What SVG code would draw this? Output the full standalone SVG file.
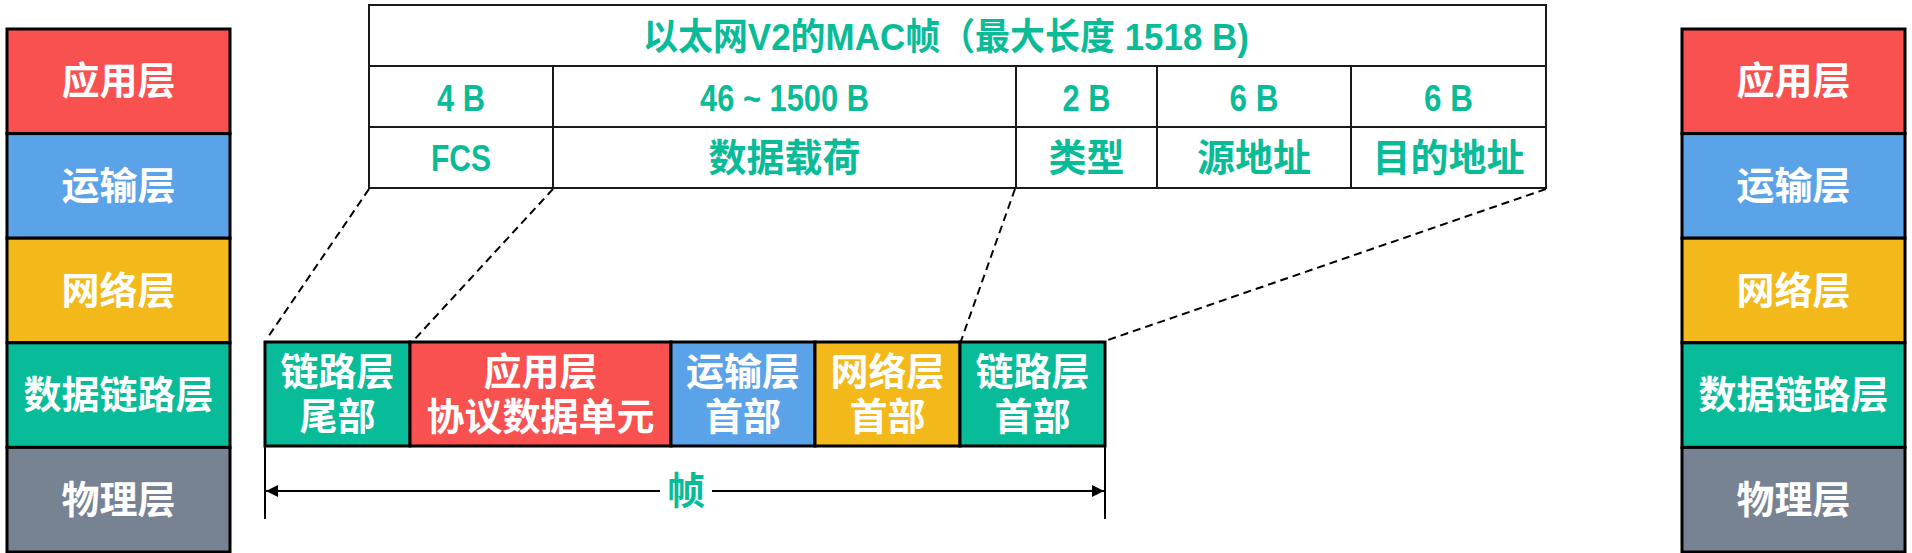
<svg xmlns="http://www.w3.org/2000/svg" width="1912" height="553" viewBox="0 0 1912 553">
<defs>
<style>
.t{font-family:"Liberation Sans","Noto Sans CJK SC",sans-serif;font-weight:bold;text-anchor:middle;dominant-baseline:central}
.w{fill:#ffffff;font-size:38px}
.g{fill:#0ABB98;font-size:38px}
.n{fill:#0ABB98;font-size:37px}
.cell{fill:#ffffff;stroke:#1a1a1a;stroke-width:2}
.box{stroke:#000000;stroke-width:3}
.red{fill:#F95050}
.blue{fill:#5BA3E9}
.yel{fill:#F3B91B}
.teal{fill:#08BC9A}
.gray{fill:#778393}
.dash{stroke:#000000;stroke-width:2;stroke-dasharray:8 5;fill:none}
.dim{stroke:#000000;stroke-width:2;fill:none}
</style>
<marker id="ah" viewBox="0 0 12 12" refX="12" refY="6" markerWidth="12" markerHeight="12" markerUnits="userSpaceOnUse" orient="auto-start-reverse">
<path d="M0,0 L12,6 L0,12 z" fill="#000000"/>
</marker>
</defs>
<rect width="1912" height="553" fill="#ffffff"/>

<!-- left protocol stack -->
<g id="left-stack">
<g id="l-app"><rect class="box red" x="7" y="29" width="223" height="104.6"/><text class="t w" x="118.5" y="81.3">应用层</text></g>
<g id="l-trans"><rect class="box blue" x="7" y="133.6" width="223" height="104.6"/><text class="t w" x="118.5" y="185.9">运输层</text></g>
<g id="l-net"><rect class="box yel" x="7" y="238.2" width="223" height="104.6"/><text class="t w" x="118.5" y="290.5">网络层</text></g>
<g id="l-link"><rect class="box teal" x="7" y="342.8" width="223" height="104.6"/><text class="t w" x="118.5" y="395.1">数据链路层</text></g>
<g id="l-phy"><rect class="box gray" x="7" y="447.4" width="223" height="104.6"/><text class="t w" x="118.5" y="499.7">物理层</text></g>
</g>

<!-- right protocol stack -->
<g id="right-stack">
<g id="r-app"><rect class="box red" x="1682" y="29" width="223" height="104.6"/><text class="t w" x="1793.5" y="81.3">应用层</text></g>
<g id="r-trans"><rect class="box blue" x="1682" y="133.6" width="223" height="104.6"/><text class="t w" x="1793.5" y="185.9">运输层</text></g>
<g id="r-net"><rect class="box yel" x="1682" y="238.2" width="223" height="104.6"/><text class="t w" x="1793.5" y="290.5">网络层</text></g>
<g id="r-link"><rect class="box teal" x="1682" y="342.8" width="223" height="104.6"/><text class="t w" x="1793.5" y="395.1">数据链路层</text></g>
<g id="r-phy"><rect class="box gray" x="1682" y="447.4" width="223" height="104.6"/><text class="t w" x="1793.5" y="499.7">物理层</text></g>
</g>

<!-- MAC frame table -->
<g id="mac-table">
<g id="title-row">
<rect class="cell" x="369" y="5" width="1177" height="61"/>
<text class="t n" x="643" y="37" style="text-anchor:start" textLength="606" lengthAdjust="spacingAndGlyphs">以太网V2的MAC帧（最大长度 1518 B)</text>
</g>
<g id="col-fcs">
<rect class="cell" x="369" y="66" width="184" height="61"/>
<rect class="cell" x="369" y="127" width="184" height="61"/>
<text class="t n" x="461" y="98" textLength="48" lengthAdjust="spacingAndGlyphs">4 B</text>
<text class="t n" x="461" y="158" textLength="60" lengthAdjust="spacingAndGlyphs">FCS</text>
</g>
<g id="col-payload">
<rect class="cell" x="553" y="66" width="463" height="61"/>
<rect class="cell" x="553" y="127" width="463" height="61"/>
<text class="t n" x="784.5" y="98" textLength="169" lengthAdjust="spacingAndGlyphs">46 ~ 1500 B</text>
<text class="t g" x="784.5" y="158">数据载荷</text>
</g>
<g id="col-type">
<rect class="cell" x="1016" y="66" width="141" height="61"/>
<rect class="cell" x="1016" y="127" width="141" height="61"/>
<text class="t n" x="1086.5" y="98" textLength="48" lengthAdjust="spacingAndGlyphs">2 B</text>
<text class="t g" x="1086.5" y="158">类型</text>
</g>
<g id="col-src">
<rect class="cell" x="1157" y="66" width="194" height="61"/>
<rect class="cell" x="1157" y="127" width="194" height="61"/>
<text class="t n" x="1254" y="98" textLength="49" lengthAdjust="spacingAndGlyphs">6 B</text>
<text class="t g" x="1254" y="158">源地址</text>
</g>
<g id="col-dst">
<rect class="cell" x="1351" y="66" width="195" height="61"/>
<rect class="cell" x="1351" y="127" width="195" height="61"/>
<text class="t n" x="1448.5" y="98" textLength="49" lengthAdjust="spacingAndGlyphs">6 B</text>
<text class="t g" x="1448.5" y="158">目的地址</text>
</g>
</g>

<!-- frame boxes -->
<g id="frame">
<g id="f-trailer"><rect class="box teal" x="265" y="342" width="145" height="104"/><text class="t w" x="337.5" y="371.5">链路层</text><text class="t w" x="337.5" y="416.5">尾部</text></g>
<g id="f-pdu"><rect class="box red" x="410" y="342" width="261" height="104"/><text class="t w" x="540.5" y="371.5">应用层</text><text class="t w" x="540.5" y="416.5">协议数据单元</text></g>
<g id="f-trans"><rect class="box blue" x="671" y="342" width="144" height="104"/><text class="t w" x="743" y="371.5">运输层</text><text class="t w" x="743" y="416.5">首部</text></g>
<g id="f-net"><rect class="box yel" x="815" y="342" width="145" height="104"/><text class="t w" x="887.5" y="371.5">网络层</text><text class="t w" x="887.5" y="416.5">首部</text></g>
<g id="f-link"><rect class="box teal" x="960" y="342" width="145" height="104"/><text class="t w" x="1032.5" y="371.5">链路层</text><text class="t w" x="1032.5" y="416.5">首部</text></g>
</g>

<!-- connectors -->
<g id="connectors">
<line class="dash" x1="369" y1="189" x2="268" y2="337"/>
<line class="dash" x1="553" y1="189" x2="414" y2="340"/>
<line class="dash" x1="1015" y1="189" x2="961" y2="341"/>
<line class="dash" x1="1546" y1="189" x2="1105" y2="341"/>
<line class="dim" x1="265" y1="446" x2="265" y2="519"/>
<line class="dim" x1="1105" y1="446" x2="1105" y2="519"/>
<line class="dim" x1="266" y1="491" x2="660" y2="491" marker-start="url(#ah)"/>
<line class="dim" x1="712" y1="491" x2="1104" y2="491" marker-end="url(#ah)"/>
<text class="t g" x="686" y="491">帧</text>
</g>
</svg>
